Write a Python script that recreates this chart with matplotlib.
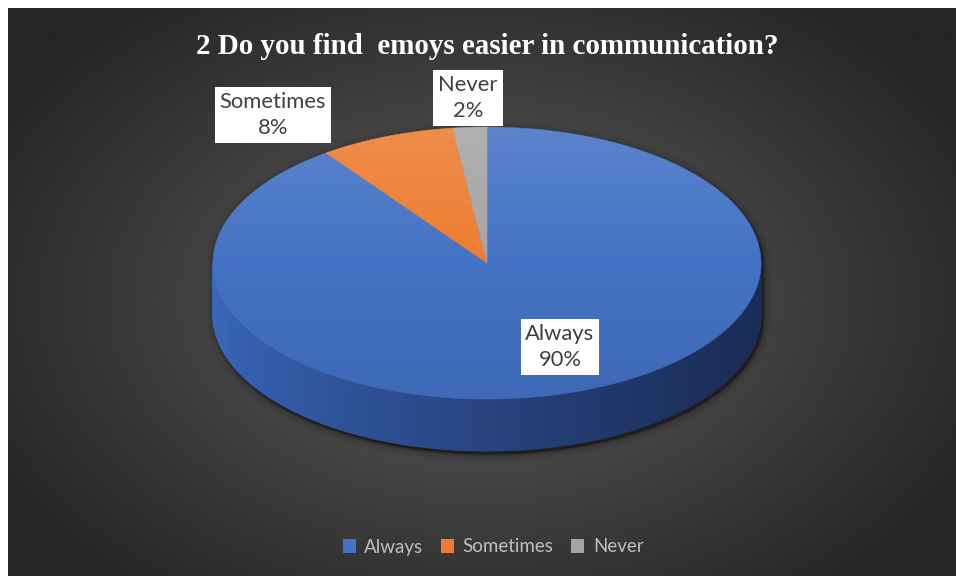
import numpy as np
import matplotlib.pyplot as plt
from matplotlib.patches import Polygon, Ellipse, Patch
from matplotlib.collections import PolyCollection
from matplotlib.colors import to_rgb

# survey answers
categories = ["Always", "Sometimes", "Never"]
shares = [90, 8, 2]
slice_colors = ["#4472C4", "#ED7D31", "#A5A5A5"]
title = "2 Do you find  emoys easier in communication?"

W, H = 956, 576
fig = plt.figure(figsize=(W / 100, H / 100), dpi=100)
fig.patch.set_facecolor("white")
ax = fig.add_axes([0, 0, 1, 1])

# dark panel with a soft radial glow in the middle
px0, py0 = 8, 8
xs = np.linspace(px0, W, 480)
ys = np.linspace(py0, H, 290)
gx, gy = np.meshgrid(xs, ys)
r = np.sqrt(((gx - 480) / 560) ** 2 + ((gy - 300) / 380) ** 2)
shade = (0x5e - np.clip(r, 0, 1) * (0x5e - 0x25)) / 255
ax.imshow(np.dstack([shade] * 3), extent=(px0, W, H, py0), aspect="auto",
          interpolation="bilinear", zorder=0)

# tilted pie geometry (pixels)
cx, cy, a, b, depth = 487, 263, 274, 136, 52


def rim(deg, drop=0.0):
    t = np.radians(deg)
    return cx + a * np.cos(t), cy - b * np.sin(t) + drop


# outline of the whole disc, used for the shadow
top_th = np.linspace(0, 180, 181)
bot_th = np.linspace(180, 360, 181)
sil = np.vstack([np.column_stack(rim(top_th)),
                 np.column_stack(rim(bot_th, depth))])
for lw, al in [(12, 0.04), (8, 0.07), (4, 0.11), (2, 0.18)]:
    ax.add_patch(Polygon(sil + [2, 3], closed=True, facecolor="black",
                         edgecolor="black", lw=lw, alpha=al, zorder=1,
                         joinstyle="round"))

# side wall: front half of the disc, darker towards the right
light, dark = np.array(to_rgb("#3A68BC")), np.array(to_rgb("#1A2C56"))
wall_th = np.linspace(-180, 0, 361)
quads, qcols = [], []
for t0, t1 in zip(wall_th[:-1], wall_th[1:]):
    x0, y0 = rim(t0)
    x1, y1 = rim(t1)
    quads.append([(x0, y0), (x1, y1), (x1, y1 + depth), (x0, y0 + depth)])
    f = (((x0 + x1) / 2) - (cx - a)) / (2 * a)
    qcols.append(light + (dark - light) * f ** 0.75)
ax.add_collection(PolyCollection(quads, facecolors=qcols, edgecolors=qcols,
                                 linewidths=0.6, zorder=2))

# top face slices, clockwise from twelve o'clock
total = sum(shares)
start = 90.0
for share, color in zip(shares, slice_colors):
    sweep = 360.0 * share / total
    th = np.linspace(start, start - sweep, max(int(sweep * 2), 6))
    pts = np.column_stack(rim(th))
    ax.add_patch(Polygon(np.vstack([[cx, cy], pts]), closed=True,
                         facecolor=color, edgecolor=color, lw=0.4, zorder=3))
    start -= sweep

# light-to-dark sheen over the top face
rows = 200
tt = np.linspace(0, 1, rows)[:, None]
sheen = np.zeros((rows, 2, 4))
sheen[..., :3] = np.where(tt < 0.5, 1.0, 0.0)[..., None]
sheen[..., 3] = np.where(tt < 0.5, 0.13 * (1 - 2 * tt), 0.08 * (2 * tt - 1))
top_clip = Ellipse((cx, cy), 2 * a, 2 * b, transform=ax.transData,
                   facecolor="none", edgecolor="none")
ax.add_patch(top_clip)
im = ax.imshow(sheen, extent=(cx - a, cx + a, cy + b, cy - b), aspect="auto",
               interpolation="bilinear", zorder=4)
im.set_clip_path(top_clip)

# data labels in white boxes
label_xy = [(560, 347), (273, 115), (468, 98)]
for cat, share, (lx, ly) in zip(categories, shares, label_xy):
    ax.text(lx, ly, f"{cat}\n{share}%", ha="center", va="center",
            multialignment="center", fontsize=15.8, family="Lato",
            color="#404040", linespacing=1.4, zorder=6,
            bbox=dict(boxstyle="square,pad=0.22", facecolor="white",
                      edgecolor="none"))

ax.text(487, 47, title, ha="center", va="center", fontsize=20.9,
        fontweight="bold", family="Liberation Serif", color="white", zorder=6)

handles = [Patch(facecolor=c, edgecolor="none") for c in slice_colors]
leg = fig.legend(handles, categories, loc="center", ncol=3,
                 bbox_to_anchor=(493 / W, 1 - 547 / H), frameon=False,
                 handlelength=0.7, handleheight=0.7, handletextpad=0.45,
                 columnspacing=0.95, prop={"family": "Lato", "size": 13.5})
for txt in leg.get_texts():
    txt.set_color("#BFBFBF")

ax.set_xlim(0, W)
ax.set_ylim(H, 0)
ax.axis("off")

fig.savefig("out.png", dpi=100, facecolor="white")
